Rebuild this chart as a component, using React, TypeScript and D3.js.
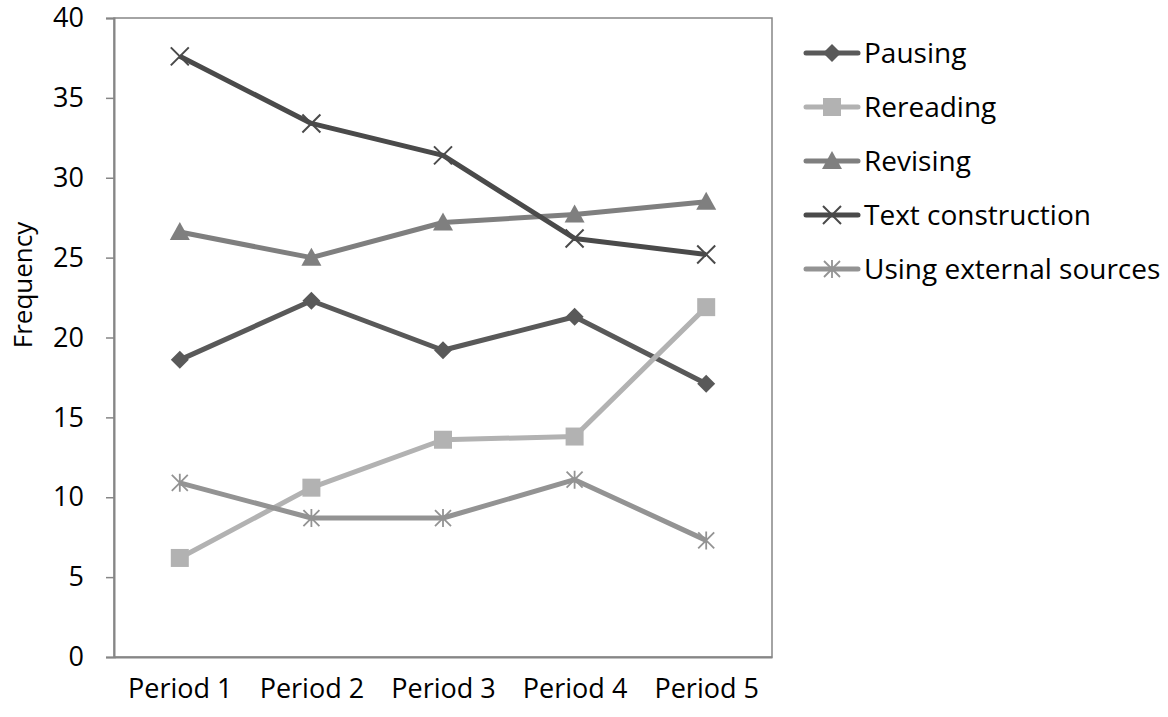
import * as d3 from 'd3';
import React, { useEffect, useRef } from 'react';

const periods = ['Period 1', 'Period 2', 'Period 3', 'Period 4', 'Period 5'];
const seriesNames = ['Pausing', 'Rereading', 'Revising', 'Text construction', 'Using external sources'];
const pausing = [18.6, 22.3, 19.2, 21.3, 17.1];
const rereading = [6.2, 10.6, 13.6, 13.8, 21.9];
const revising = [26.6, 25.0, 27.2, 27.7, 28.5];
const textConstruction = [37.6, 33.4, 31.4, 26.2, 25.2];
const externalSources = [10.9, 8.7, 8.7, 11.1, 7.3];
const yTicks = [0, 5, 10, 15, 20, 25, 30, 35, 40];

const colors = ['#595959', '#b2b2b2', '#7f7f7f', '#4a4a4a', '#939393'];
const markers = ['diamond', 'square', 'triangle', 'x', 'star'];

const FONT = '"Open Sans", sans-serif';

const App = () => {
    const ref = useRef<SVGSVGElement | null>(null);

    useEffect(() => {
        const svg = d3.select(ref.current);
        svg.selectAll('*').remove();

        const left = 114, top = 18, right = 772, bottom = 657;
        const values = [pausing, rereading, revising, textConstruction, externalSources];

        const x = d3.scalePoint<string>().domain(periods).range([left, right]).padding(0.5);
        const y = d3.scaleLinear().domain([0, 40]).range([bottom, top]);

        // plot frame
        svg.append('rect')
            .attr('x', left).attr('y', top)
            .attr('width', right - left).attr('height', bottom - top)
            .attr('fill', 'none').attr('stroke', '#868686').attr('stroke-width', 1.5);

        const yAxis = svg.append('g')
            .attr('transform', `translate(${left},0)`)
            .call(d3.axisLeft(y).tickValues(yTicks).tickSize(8).tickPadding(22));
        yAxis.select('.domain').attr('stroke', '#868686').attr('stroke-width', 2);
        yAxis.selectAll('line').attr('stroke', '#868686').attr('stroke-width', 1.5);
        yAxis.selectAll('text').style('font-size', '27px').style('font-family', FONT).attr('fill', '#000');

        const xAxis = svg.append('g')
            .attr('transform', `translate(0,${bottom})`)
            .call(d3.axisBottom(x).tickSize(0).tickPadding(22));
        xAxis.select('.domain').attr('stroke', '#868686').attr('stroke-width', 2);
        xAxis.selectAll('text').style('font-size', '27px').style('font-family', FONT).attr('fill', '#000');

        svg.append('text')
            .attr('transform', `translate(32,285) rotate(-90)`)
            .attr('text-anchor', 'middle')
            .style('font-size', '26px').style('font-family', FONT)
            .text('Frequency');

        const drawMarker = (g, type, cx, cy, color) => {
            if (type === 'diamond') {
                g.append('path').attr('d', `M${cx},${cy - 9}L${cx + 9},${cy}L${cx},${cy + 9}L${cx - 9},${cy}Z`).attr('fill', color);
            } else if (type === 'square') {
                g.append('rect').attr('x', cx - 9).attr('y', cy - 9).attr('width', 18).attr('height', 18).attr('fill', color);
            } else if (type === 'triangle') {
                g.append('path').attr('d', `M${cx},${cy - 10}L${cx + 10},${cy + 8}L${cx - 10},${cy + 8}Z`).attr('fill', color);
            } else if (type === 'x') {
                g.append('path').attr('d', `M${cx - 9},${cy - 9}L${cx + 9},${cy + 9}M${cx - 9},${cy + 9}L${cx + 9},${cy - 9}`)
                    .attr('stroke', color).attr('stroke-width', 2);
            } else {
                g.append('path').attr('d', `M${cx - 8},${cy - 8}L${cx + 8},${cy + 8}M${cx - 8},${cy + 8}L${cx + 8},${cy - 8}M${cx},${cy - 9}L${cx},${cy + 9}`)
                    .attr('stroke', color).attr('stroke-width', 1.8);
            }
        };

        const line = d3.line<number>()
            .x((d, i) => x(periods[i]))
            .y(d => y(d));

        values.forEach((vals, s) => {
            const g = svg.append('g');
            g.append('path')
                .datum(vals)
                .attr('fill', 'none')
                .attr('stroke', colors[s])
                .attr('stroke-width', 5)
                .attr('stroke-linejoin', 'round')
                .attr('d', line);
            vals.forEach((v, i) => drawMarker(g, markers[s], x(periods[i]), y(v), colors[s]));
        });

        // legend
        seriesNames.forEach((name, s) => {
            const ly = 53 + s * 54;
            const g = svg.append('g');
            g.append('line')
                .attr('x1', 806).attr('x2', 858).attr('y1', ly).attr('y2', ly)
                .attr('stroke', colors[s]).attr('stroke-width', 5).attr('stroke-linecap', 'round');
            drawMarker(g, markers[s], 832, ly, colors[s]);
            g.append('text')
                .attr('x', 864).attr('y', ly).attr('dy', '0.35em')
                .style('font-size', '28px').style('font-family', FONT)
                .text(name);
        });
    }, []);

    return (
        <svg ref={ref} width={1168} height={717} style={{ position: 'absolute', left: 0, top: 0, background: '#fff' }} />
    );
};

export default App;
